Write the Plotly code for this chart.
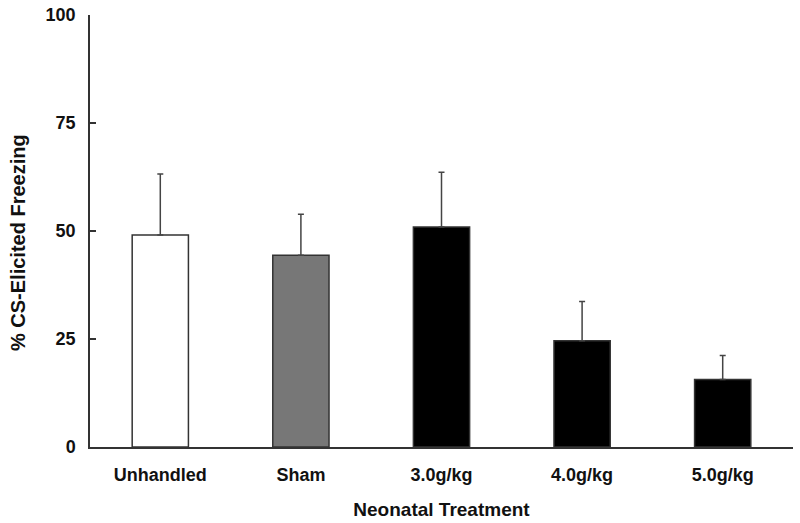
import plotly.graph_objects as go

categories = ["Unhandled", "Sham", "3.0g/kg", "4.0g/kg", "5.0g/kg"]
freezing = [49.1, 44.4, 50.9, 24.6, 15.6]
sem = [14.1, 9.5, 12.7, 9.1, 5.6]
fills = ["#ffffff", "#777777", "#000000", "#000000", "#000000"]
y_ticks = [0, 25, 50, 75, 100]

font_family = "Arial, Liberation Sans, Helvetica, sans-serif"

fig = go.Figure()
fig.add_trace(go.Bar(
    x=categories,
    y=freezing,
    width=0.4,
    marker=dict(color=fills, line=dict(color="#333333", width=1.5)),
    error_y=dict(type="data", array=sem, arrayminus=[0]*len(sem), symmetric=False,
                 color="#444444", thickness=1.5, width=3),
    showlegend=False,
))

fig.update_layout(
    width=800, height=523,
    margin=dict(l=90, r=7, t=15, b=76),
    plot_bgcolor="white", paper_bgcolor="white",
    font=dict(family=font_family, color="#111111"),
    xaxis=dict(
        range=[-0.5, 4.5], automargin=False,
        showline=True, linecolor="#333333", linewidth=1.5,
        ticks="", showgrid=False, zeroline=False,
        ticklabelstandoff=11,
        tickfont=dict(size=18, weight="bold", family=font_family),
        title=dict(text="Neonatal Treatment", font=dict(size=19, weight="bold", family=font_family), standoff=18),
    ),
    yaxis=dict(
        range=[0, 100], automargin=False,
        tickvals=y_ticks,
        showline=True, linecolor="#333333", linewidth=1.5,
        ticks="inside", ticklen=6, tickcolor="#333333", tickwidth=1.5,
        showgrid=False, zeroline=False,
        ticklabelstandoff=9,
        tickfont=dict(size=18, weight="bold", family=font_family),
    ),
    annotations=[dict(
        text="% CS-Elicited Freezing", textangle=-90,
        xref="paper", yref="paper", x=0, y=0.5,
        xanchor="center", yanchor="middle",
        xshift=-72, yshift=-12, showarrow=False,
        font=dict(size=20, weight="bold", family=font_family, color="#111111"),
    )],
)

fig.write_html("out.html", config={"displayModeBar": False},
               post_script="document.body.style.margin='0px';")
